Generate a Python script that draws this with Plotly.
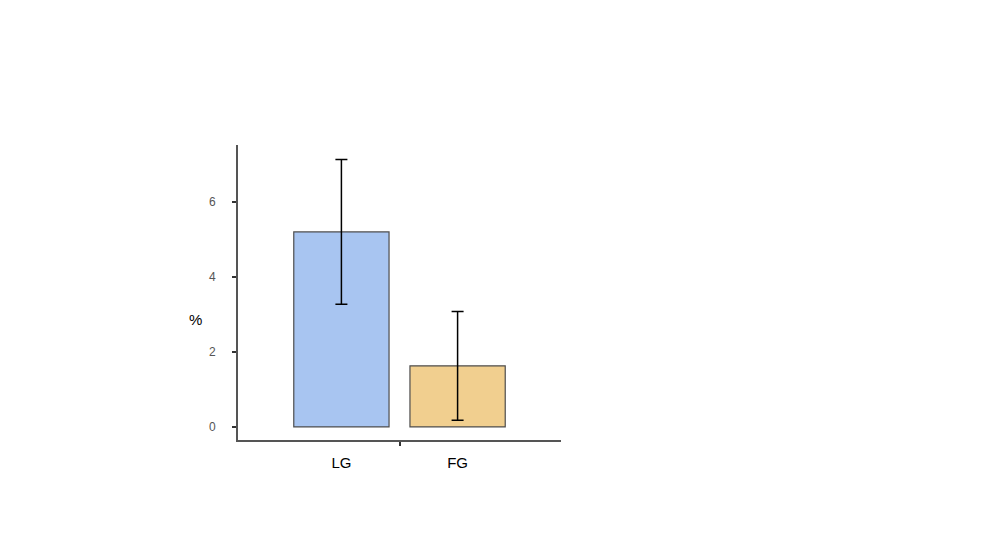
import plotly.graph_objects as go

groups = ["LG", "FG"]
means = [5.2, 1.63]
errors = [1.93, 1.45]
bar_colors = ["#a8c5f1", "#f1cf8f"]

fig = go.Figure()

fig.add_trace(go.Bar(
    x=[0, 1],
    y=means,
    width=0.82,
    marker=dict(color=bar_colors, line=dict(color="#4d4d4d", width=1.2)),
    error_y=dict(type="data", array=errors, visible=True,
                 color="black", thickness=1.5, width=6),
    showlegend=False
))

fig.update_layout(
    width=986, height=555,
    margin=dict(l=230, r=433, t=137, b=123),
    paper_bgcolor="white", plot_bgcolor="white",
    font=dict(family="Liberation Sans, Arial", color="black"),
)

# x axis: labels under bars, one tick between them
fig.update_xaxes(
    range=[-0.89, 1.89],
    tickvals=[0, 1], ticktext=groups,
    ticks="", tickfont=dict(size=15, color="black"),
    ticklabelstandoff=8,
    showline=True, linecolor="#555555", linewidth=2,
    showgrid=False, zeroline=False,
    minor=dict(tickvals=[0.5], ticks="outside", ticklen=4,
               tickwidth=2, tickcolor="#333333", showgrid=False),
)

fig.update_yaxes(
    range=[-0.35, 7.52],
    tickvals=[0, 2, 4, 6],
    ticks="outside", ticklen=4, tickwidth=2, tickcolor="#333333",
    tickfont=dict(size=12, color="#555555"),
    ticklabelstandoff=14,
    showline=True, linecolor="#555555", linewidth=2,
    showgrid=False, zeroline=False,
)

# horizontal "%" axis label
fig.add_annotation(text="%", xref="paper", yref="paper",
                   x=-0.158, y=0.41, showarrow=False,
                   font=dict(size=15, color="black"))

fig.write_html("out.html")
